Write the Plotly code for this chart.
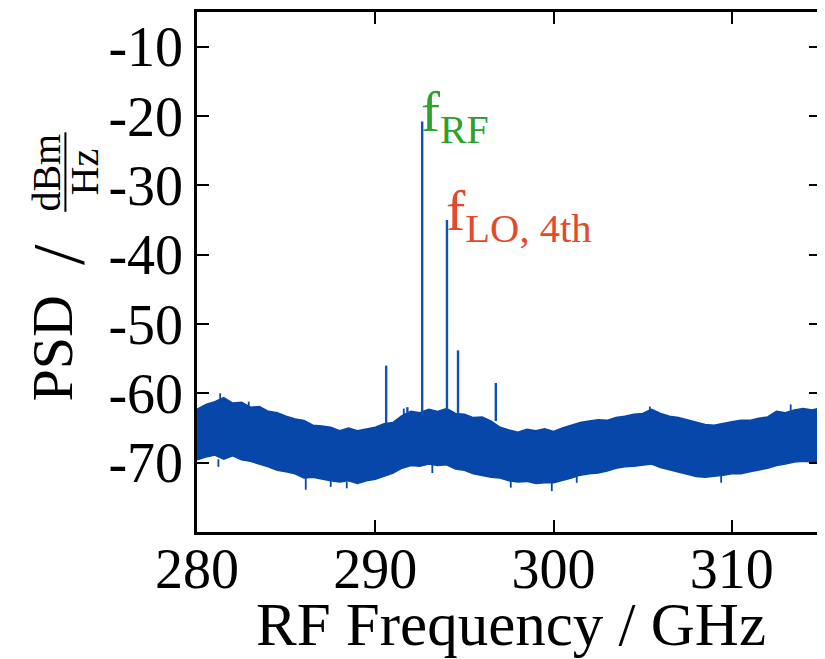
import plotly.graph_objects as go

# ---- data ----
# noise-floor envelope, every 0.5 GHz from 280 to 315 GHz
band_freq = [280.0 + 0.5 * i for i in range(71)]
band_upper = [-62.3, -61.6, -61.2, -60.6, -61.4, -61.3, -62.0, -61.9, -62.6, -62.8,
              -63.3, -63.7, -63.9, -64.6, -64.7, -64.9, -65.4, -65.0, -65.4, -65.1,
              -64.9, -64.4, -64.2, -63.2, -62.6, -62.8, -62.3, -62.6, -62.2, -62.9,
              -63.0, -63.5, -63.4, -64.0, -64.9, -65.3, -65.6, -65.2, -65.4, -65.1,
              -65.5, -65.0, -64.6, -64.2, -64.0, -63.8, -63.9, -63.5, -63.3, -63.0,
              -62.9, -62.3, -62.9, -63.3, -63.5, -63.8, -64.2, -64.5, -64.6, -64.3,
              -64.1, -63.9, -63.9, -63.6, -63.4, -62.6, -62.8, -62.4, -62.2, -62.4, -62.1]
band_lower = [-69.6, -69.2, -68.9, -69.5, -69.0, -69.6, -69.8, -70.2, -70.6, -71.1,
              -71.3, -71.6, -72.2, -72.1, -72.4, -72.6, -72.8, -72.6, -73.0, -72.6,
              -72.4, -72.0, -71.5, -70.8, -70.4, -70.5, -70.2, -70.4, -70.3, -70.9,
              -71.1, -71.6, -71.8, -72.1, -72.2, -72.6, -72.8, -72.7, -73.0, -72.9,
              -72.9, -72.5, -72.2, -71.8, -71.6, -71.5, -71.2, -70.8, -70.6, -70.5,
              -70.4, -70.2, -70.7, -71.0, -71.4, -71.7, -72.0, -72.1, -72.0, -71.8,
              -71.6, -71.6, -71.3, -71.0, -70.8, -70.4, -70.2, -69.9, -69.8, -69.9, -69.7]

# isolated noise spikes sticking out of the band (GHz, from, to)
spike_freq = [281.3, 281.2, 282.9, 286.1, 287.5, 288.4, 291.6, 293.2, 297.6, 299.9, 301.3, 305.4, 309.4, 313.3]
spike_from = [-61.5, -69.5, -62.0, -72.0, -72.5, -72.8, -63.5, -70.3, -72.5, -72.9, -72.0, -62.6, -71.9, -62.5]
spike_to = [-60.0, -70.6, -61.2, -73.9, -73.5, -73.7, -62.2, -71.5, -73.6, -74.1, -72.9, -61.9, -72.9, -61.6]

# discrete spectral lines (GHz, peak dBm/Hz)
peak_freq = [290.61, 291.8, 292.63, 294.02, 294.64, 296.76]
peak_top = [-56.0, -62.0, -20.8, -35.0, -53.8, -58.5]
peak_base = [-64.5, -63.0, -63.0, -62.5, -63.0, -64.0]

x_ticks = [280, 290, 300, 310]
x_ticktext = ["280", "290", "300", "310"]
y_ticks = [-80, -70, -60, -50, -40, -30, -20, -10]
y_ticktext = ["", "-70", "-60", "-50", "-40", "-30", "-20", "-10"]

BLUE = "#0747a9"
GREEN = "#2ea02c"
RED = "#e4492a"
FONT = "Liberation Serif"

fig = go.Figure()

poly_x = band_freq + band_freq[::-1]
poly_y = band_upper + band_lower[::-1]
fig.add_trace(go.Scatter(x=poly_x, y=poly_y, mode="lines", fill="toself",
                         fillcolor=BLUE, line=dict(color=BLUE, width=1.5),
                         hoverinfo="skip", showlegend=False))

sx, sy = [], []
for f, a, b in zip(spike_freq, spike_from, spike_to):
    sx += [f, f, None]
    sy += [a, b, None]
fig.add_trace(go.Scatter(x=sx, y=sy, mode="lines", line=dict(color=BLUE, width=1.8),
                         showlegend=False, hoverinfo="skip"))

px, py = [], []
for f, t, b in zip(peak_freq, peak_top, peak_base):
    px += [f, f, None]
    py += [b, t, None]
fig.add_trace(go.Scatter(x=px, y=py, mode="lines", line=dict(color="#1050b8", width=2.4),
                         showlegend=False, hoverinfo="skip"))

# peak labels
fig.add_annotation(x=peak_freq[2], y=peak_top[2], text="f<sub>RF</sub>", showarrow=False,
                   xanchor="left", yanchor="middle", xshift=-3, yshift=6,
                   font=dict(family=FONT, size=57, color=GREEN))
fig.add_annotation(x=peak_freq[3], y=peak_top[3], text="f<sub>LO, 4th</sub>", showarrow=False,
                   xanchor="left", yanchor="middle", xshift=-3, yshift=6,
                   font=dict(family=FONT, size=58, color=RED))

# browser body margin of 8 px shifts the figure
OFF = 8
W, H = 825 - OFF, 659 - OFF
L, R, T, B = 197 - OFF, 2, 9 - OFF, 127
pw, ph = W - L - R, H - T - B


def pxx(x):
    return (x - OFF - L) / pw


def pyy(y):
    return (H - B - (y - OFF)) / ph


# y-axis title: "PSD / dBm/Hz" with stacked fraction
fig.add_annotation(xref="paper", yref="paper", x=pxx(52), y=pyy(347), text="PSD",
                   textangle=-90, showarrow=False, xanchor="center", yanchor="middle",
                   font=dict(family=FONT, size=58, color="black"))
fig.add_annotation(xref="paper", yref="paper", x=pxx(58), y=pyy(253), text="/",
                   textangle=-90, showarrow=False, xanchor="center", yanchor="middle",
                   font=dict(family=FONT, size=74, color="black"))
fig.add_annotation(xref="paper", yref="paper", x=pxx(46), y=pyy(170), text="dBm",
                   textangle=-90, showarrow=False, xanchor="center", yanchor="middle",
                   font=dict(family=FONT, size=40, color="black"))
fig.add_annotation(xref="paper", yref="paper", x=pxx(84), y=pyy(170), text="Hz",
                   textangle=-90, showarrow=False, xanchor="center", yanchor="middle",
                   font=dict(family=FONT, size=40, color="black"))
fig.add_shape(type="line", xref="paper", yref="paper", x0=pxx(65), x1=pxx(65),
              y0=pyy(130), y1=pyy(210), line=dict(color="black", width=2))

# x-axis title
fig.add_annotation(xref="paper", yref="paper", x=pxx(512), y=pyy(625), text="RF Frequency / GHz",
                   showarrow=False, xanchor="center", yanchor="middle",
                   font=dict(family=FONT, size=61, color="black"))

axis_common = dict(showline=True, linecolor="black", linewidth=2.5, mirror="ticks",
                   ticks="inside", ticklen=12, tickwidth=2, tickcolor="black",
                   showgrid=False, zeroline=False,
                   tickfont=dict(family=FONT, size=56, color="black"))

fig.update_xaxes(range=[280, 315], tickvals=x_ticks, ticktext=x_ticktext,
                 ticklabelstandoff=-14, **axis_common)
fig.update_yaxes(range=[-80, -5], tickvals=y_ticks, ticktext=y_ticktext, **axis_common)

fig.update_layout(width=W, height=H, margin=dict(l=L, r=R, t=T, b=B),
                  paper_bgcolor="white", plot_bgcolor="white", showlegend=False)

fig.write_html("out.html")
